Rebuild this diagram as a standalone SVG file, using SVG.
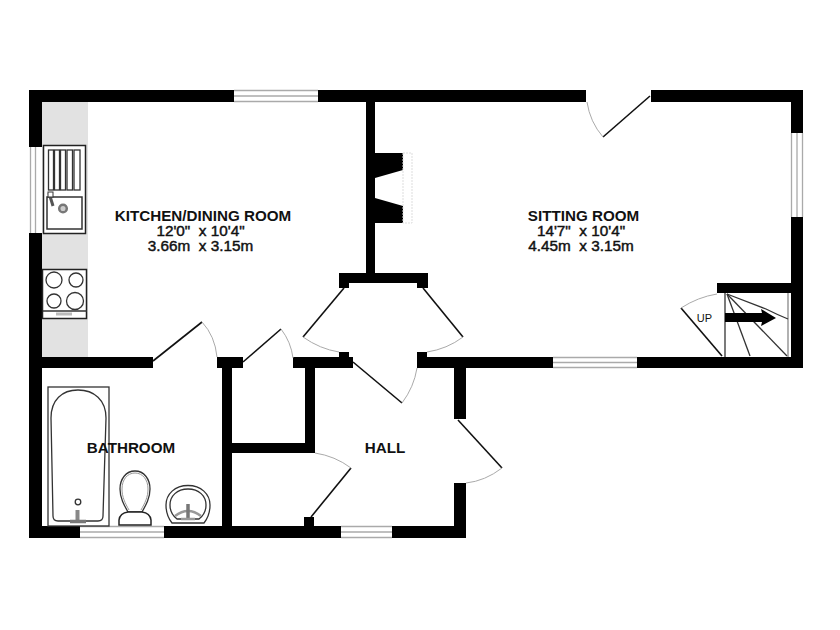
<svg xmlns="http://www.w3.org/2000/svg" width="840" height="630" viewBox="0 0 840 630">
<style>
.lbl{font-family:"Liberation Sans",Arial,sans-serif;font-size:15.300px;fill:#111;text-anchor:middle;stroke:#111;stroke-width:.45px}
.hd{font-weight:bold;font-size:15.200px;stroke-width:0}
.wall{fill:#000}
.win{fill:none;stroke:#aaa;stroke-width:1.300}
.leaf{fill:none;stroke:#111;stroke-width:1.600}
.swing{fill:none;stroke:#aaa;stroke-width:1}
.fx{fill:#fff;stroke:#222;stroke-width:1.500}
.thin{fill:none;stroke:#333;stroke-width:1.300}
</style>
<rect width="840" height="630" fill="#fff"/>
<g id="counter"><rect x="42" y="102" width="46" height="255" fill="#e2e2e2"/></g>
<g id="walls" class="wall">
<rect x="29" y="90" width="205" height="12"/>
<rect x="318" y="90" width="268" height="12"/>
<rect x="651" y="90" width="152" height="12"/>
<rect x="29" y="90" width="13" height="57"/>
<rect x="29" y="233" width="13" height="305"/>
<rect x="791" y="90" width="12" height="43"/>
<rect x="791" y="217" width="12" height="151"/>
<rect x="366" y="102" width="9" height="171"/>
<rect x="339" y="273" width="89" height="10"/>
<rect x="339" y="283" width="10" height="5"/>
<rect x="417" y="283" width="11" height="5"/>
<rect x="42" y="357" width="111" height="11"/>
<rect x="217" y="357" width="26" height="11"/>
<rect x="293" y="357" width="60" height="11"/>
<rect x="339" y="352" width="10" height="5"/>
<rect x="417" y="352" width="10" height="5"/>
<rect x="417" y="357" width="136" height="11"/>
<rect x="637" y="357" width="166" height="11"/>
<rect x="222" y="368" width="10" height="158"/>
<rect x="305" y="368" width="10" height="85"/>
<rect x="232" y="443" width="73" height="10"/>
<rect x="454" y="368" width="12" height="51"/>
<rect x="454" y="483" width="12" height="55"/>
<rect x="29" y="526" width="51" height="12"/>
<rect x="164" y="526" width="177" height="12"/>
<rect x="392" y="526" width="74" height="12"/>
<rect x="304" y="517" width="10" height="9"/>
<rect x="717" y="283" width="74" height="10"/>
<polygon points="375,153 403,153 403,170 375,178"/>
<polygon points="375,198 403,206 403,223 375,223"/>
</g>
<g id="windows" class="win">
<path d="M234 90.500H318M234 96H318M234 101.500H318"/>
<path d="M30.500 147V233M35.500 147V233"/>
<path d="M791.500 133V217M797 133V217M802.500 133V217"/>
<path d="M553 357.500H637M553 362.500H637M553 367.500H637"/>
<path d="M80 526.500H164M80 532H164M80 537.500H164"/>
<path d="M341 526.500H392M341 532H392M341 537.500H392"/>
</g>
<g id="connectors">
<path class="leaf" d="M153 361L202 322"/><path class="swing" d="M202 322Q215 336 217 357"/>
<path class="leaf" d="M243 362L281 329"/><path class="swing" d="M281 329Q291 342 293 358"/>
<path class="leaf" d="M344 288L303 337"/><path class="swing" d="M303 337Q320 349 339 352"/>
<path class="leaf" d="M423 288L463 337"/><path class="swing" d="M463 337Q447 349 427 352"/>
<path class="leaf" d="M353 362L402 403"/><path class="swing" d="M402 403Q414 387 417 368"/>
<path class="leaf" d="M458 420L502 468"/><path class="swing" d="M502 468Q485 481 466 483"/>
<path class="leaf" d="M311 517L351 468"/><path class="swing" d="M351 468Q335 456 315 453"/>
<path class="leaf" d="M650 96L603 137"/><path class="swing" d="M603 137Q590 122 587 102"/>
<path class="leaf" d="M722 356L681 308"/><path class="swing" d="M681 308Q698 297 717 294"/>
</g>
<g id="fireplace"><rect x="403" y="153" width="9" height="70" fill="none" stroke="#ddd" stroke-width="1" stroke-dasharray="2 1"/></g>
<g id="sink">
<rect class="fx" x="43.500" y="145.500" width="42" height="88"/>
<g class="thin">
<rect x="48.500" y="150" width="5" height="40"/><rect x="54.500" y="150" width="5" height="40"/><rect x="60.500" y="150" width="5" height="40"/><rect x="67" y="150" width="5.500" height="40"/><rect x="74" y="150" width="6" height="40"/>
<rect x="47" y="197" width="35" height="32" stroke-width="1.500"/>
</g>
<path d="M49 193L53 206" stroke="#555" stroke-width="3" fill="none"/>
<rect x="48" y="192" width="5" height="5" fill="#fff" stroke="#333"/>
<circle cx="63" cy="208.500" r="3.800" fill="#ccc" stroke="#777" stroke-width="2.500"/>
</g>
<g id="hob">
<rect class="fx" x="42.500" y="269.500" width="44" height="49"/>
<line class="thin" x1="43" y1="311" x2="87" y2="311"/>
<rect x="56" y="312.500" width="16" height="3" fill="#bbb"/>
<g class="thin" stroke-width="1.500"><circle cx="54" cy="280" r="8"/><circle cx="76" cy="280" r="7"/><circle cx="54" cy="301" r="7"/><circle cx="75" cy="301" r="8.500"/></g>
</g>
<g id="bath">
<rect class="thin" x="48" y="387" width="61" height="139"/>
<path class="thin" d="M51 418C51 400 62 390 78 390C94 390 106 400 106 418L103 516Q103 521 98 521H58Q53 521 53 516Z"/>
<circle class="thin" cx="78" cy="502" r="2.800"/>
<path d="M77.500 510V522" stroke="#888" stroke-width="4" fill="none"/>
<path d="M70 521.500H86" stroke="#777" stroke-width="3.500" fill="none"/>
</g>
<g id="toilet">
<path class="thin" d="M135 471C126 471 120 479 120 489C120 498 124 505 128 512H142C146 505 150 498 150 489C150 479 144 471 135 471Z"/>
<path d="M135 473C127 473 122 480 122 489C122 497 125 503 129 510M135 473C143 473 148 480 148 489C148 497 145 503 141 510" fill="none" stroke="#999"/>
<path class="fx" d="M119 525V520Q120 513 128 512H142Q150 513 151 520V525Z" stroke-width="1.300"/>
</g>
<g id="basin">
<path class="thin" d="M188 485.500C175 485.500 166 494 166 505C166 513 168 518 172 523H204C208 518 210 513 210 505C210 494 201 485.500 188 485.500Z"/>
<path class="thin" d="M188 489C177 489 170 496 170 505C170 511 173 516 177 519H199C203 516 206 511 206 505C206 496 199 489 188 489Z"/>
<path d="M175 516Q188 506 201 516" fill="none" stroke="#999" stroke-width="2.500"/>
<path d="M188 504V518" stroke="#777" stroke-width="3.500" fill="none"/>
<path d="M181 519H195" stroke="#999" stroke-width="2.500" fill="none"/>
</g>
<g id="stairs">
<g class="thin" stroke-width="1.500">
<line x1="725" y1="293" x2="725" y2="357"/><line x1="788" y1="293" x2="788" y2="357" stroke="#888"/>
<path d="M727 294L766 309Q778 315 788 319"/><line x1="727" y1="294" x2="750" y2="356"/><line x1="727" y1="294" x2="787" y2="356"/>
</g>
<polygon points="725,313 762,313 761,309 776,318 761,326 762,322 725,322" fill="#000"/>
</g>
<g id="labels">
<text class="lbl hd" x="203" y="220.500">KITCHEN/DINING ROOM</text>
<text class="lbl" x="200.500" y="236" xml:space="preserve">12'0"  x 10'4"</text>
<text class="lbl" x="200.500" y="251" xml:space="preserve">3.66m  x 3.15m</text>
<text class="lbl hd" x="583.500" y="220.500">SITTING ROOM</text>
<text class="lbl" x="581" y="236" xml:space="preserve">14'7"  x 10'4"</text>
<text class="lbl" x="581" y="251" xml:space="preserve">4.45m  x 3.15m</text>
<text class="lbl hd" x="131" y="453">BATHROOM</text>
<text class="lbl hd" x="385" y="453">HALL</text>
<text class="lbl" x="704.500" y="322" style="font-size:11px;stroke-width:0">UP</text>
</g>
</svg>
